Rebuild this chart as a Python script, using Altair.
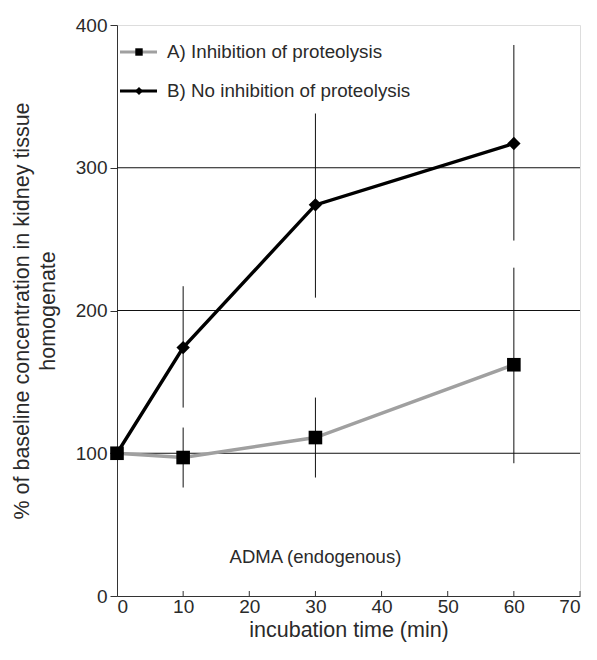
import altair as alt
import pandas as pd

# ---- data ----
times = [0, 10, 30, 60]
a_mean = [100, 97, 111, 162]
a_lo = [100, 76, 83, 93]
a_hi = [100, 118, 139, 230]
b_mean = [100, 174, 274, 317]
b_lo = [100, 132, 209, 249]
b_hi = [100, 217, 338, 386]

series_labels = ["A) Inhibition of proteolysis", "B) No inhibition of proteolysis"]
grid_values = [100, 200, 300]
x_ticks = [0, 10, 20, 30, 40, 50, 60, 70]
y_ticks = [0, 100, 200, 300, 400]
annotation = "ADMA (endogenous)"

FONT = "Arial, Liberation Sans, sans-serif"
W, H = 463, 571
GRAY = "#a0a0a0"
TXT = "#2a2a2a"

dfA = pd.DataFrame({"t": times, "m": a_mean, "lo": a_lo, "hi": a_hi})
dfB = pd.DataFrame({"t": times, "m": b_mean, "lo": b_lo, "hi": b_hi})

xs = alt.Scale(domain=[0, 70], nice=False)
ys = alt.Scale(domain=[0, 400], nice=False)

xenc = alt.X("t:Q", scale=xs, axis=alt.Axis(
    title="incubation time (min)", values=x_ticks, grid=False, domainColor="#333",
    ticks=False, labelFont=FONT, labelFontSize=19, labelColor=TXT,
    labelPadding=1, titleFont=FONT, titleFontSize=21.5, titleFontWeight="normal",
    titleColor=TXT, titlePadding=3))
yaxis = alt.Axis(
    title=["% of baseline concentration in kidney tissue", "homogenate"],
    values=y_ticks, grid=False, domainColor="#333", tickColor="#333", tickSize=7,
    labelFont=FONT, labelFontSize=19, labelColor=TXT, labelPadding=3,
    titleFont=FONT, titleFontSize=21.5, titleFontWeight="normal", titleColor=TXT,
    titleLineHeight=26, titlePadding=16)

base_axes = alt.Chart(dfA).mark_point(opacity=0).encode(
    x=xenc, y=alt.Y("m:Q", scale=ys, axis=yaxis))

grid = alt.Chart(pd.DataFrame({"g": grid_values})).mark_rule(
    color="#111", strokeWidth=1).encode(
    y=alt.Y("g:Q", scale=ys), x=alt.value(0), x2=alt.value(W))

def errbars(df):
    return alt.Chart(df).mark_rule(color="#111", strokeWidth=1).encode(
        x=alt.X("t:Q", scale=xs), y=alt.Y("lo:Q", scale=ys), y2="hi:Q")

lineB = alt.Chart(dfB).mark_line(color="#000", strokeWidth=3.4).encode(
    x=alt.X("t:Q", scale=xs), y=alt.Y("m:Q", scale=ys))
lineA = alt.Chart(dfA).mark_line(color=GRAY, strokeWidth=3.4).encode(
    x=alt.X("t:Q", scale=xs), y=alt.Y("m:Q", scale=ys))
ptsB = alt.Chart(dfB).mark_point(shape="diamond", filled=True, color="#000",
                                 size=180, opacity=1).encode(
    x=alt.X("t:Q", scale=xs), y=alt.Y("m:Q", scale=ys))
ptsA = alt.Chart(dfA).mark_point(shape="square", filled=True, color="#000",
                                 size=185, opacity=1).encode(
    x=alt.X("t:Q", scale=xs), y=alt.Y("m:Q", scale=ys))

# inward x ticks (point up from the axis)
xt = alt.Chart(pd.DataFrame({"t": x_ticks[1:]})).mark_rule(
    color="#333", strokeWidth=1).encode(
    x=alt.X("t:Q", scale=xs), y=alt.value(H), y2=alt.value(H - 5))

# legend drawn inside the plot
leg = pd.DataFrame({"label": series_labels, "row": [0, 1]})
row_y = {0: 27, 1: 66}
leg_layers = []
for r, col, shp, sz in [(0, GRAY, "square", 55), (1, "#000", "diamond", 65)]:
    d = leg[leg.row == r]
    yy = row_y[r]
    leg_layers.append(alt.Chart(d).mark_rule(color=col, strokeWidth=3).encode(
        x=alt.value(3), x2=alt.value(40), y=alt.value(yy)))
    leg_layers.append(alt.Chart(d).mark_point(shape=shp, filled=True, color="#000",
                                              size=sz, opacity=1).encode(
        x=alt.value(22), y=alt.value(yy)))
    leg_layers.append(alt.Chart(d).mark_text(
        align="left", baseline="middle", font=FONT, fontSize=18.8, color=TXT).encode(
        x=alt.value(50), y=alt.value(yy), text="label:N"))

ann = alt.Chart(pd.DataFrame({"t": [30], "v": [27], "s": [annotation]})).mark_text(
    align="center", baseline="middle", font=FONT, fontSize=18.5, color=TXT).encode(
    x=alt.X("t:Q", scale=xs), y=alt.Y("v:Q", scale=ys), text="s:N")

chart = alt.layer(
    base_axes, grid, errbars(dfA), errbars(dfB), xt, lineB, lineA, ptsB, ptsA,
    ann, *leg_layers
).properties(
    width=W, height=H,
    autosize=alt.AutoSizeParams(type="none"),
    padding={"left": 117, "top": 25, "right": 17, "bottom": 64},
).configure_view(stroke=None).configure(background="white")

chart.save("out.html", embed_options={"renderer": "svg", "actions": False})
